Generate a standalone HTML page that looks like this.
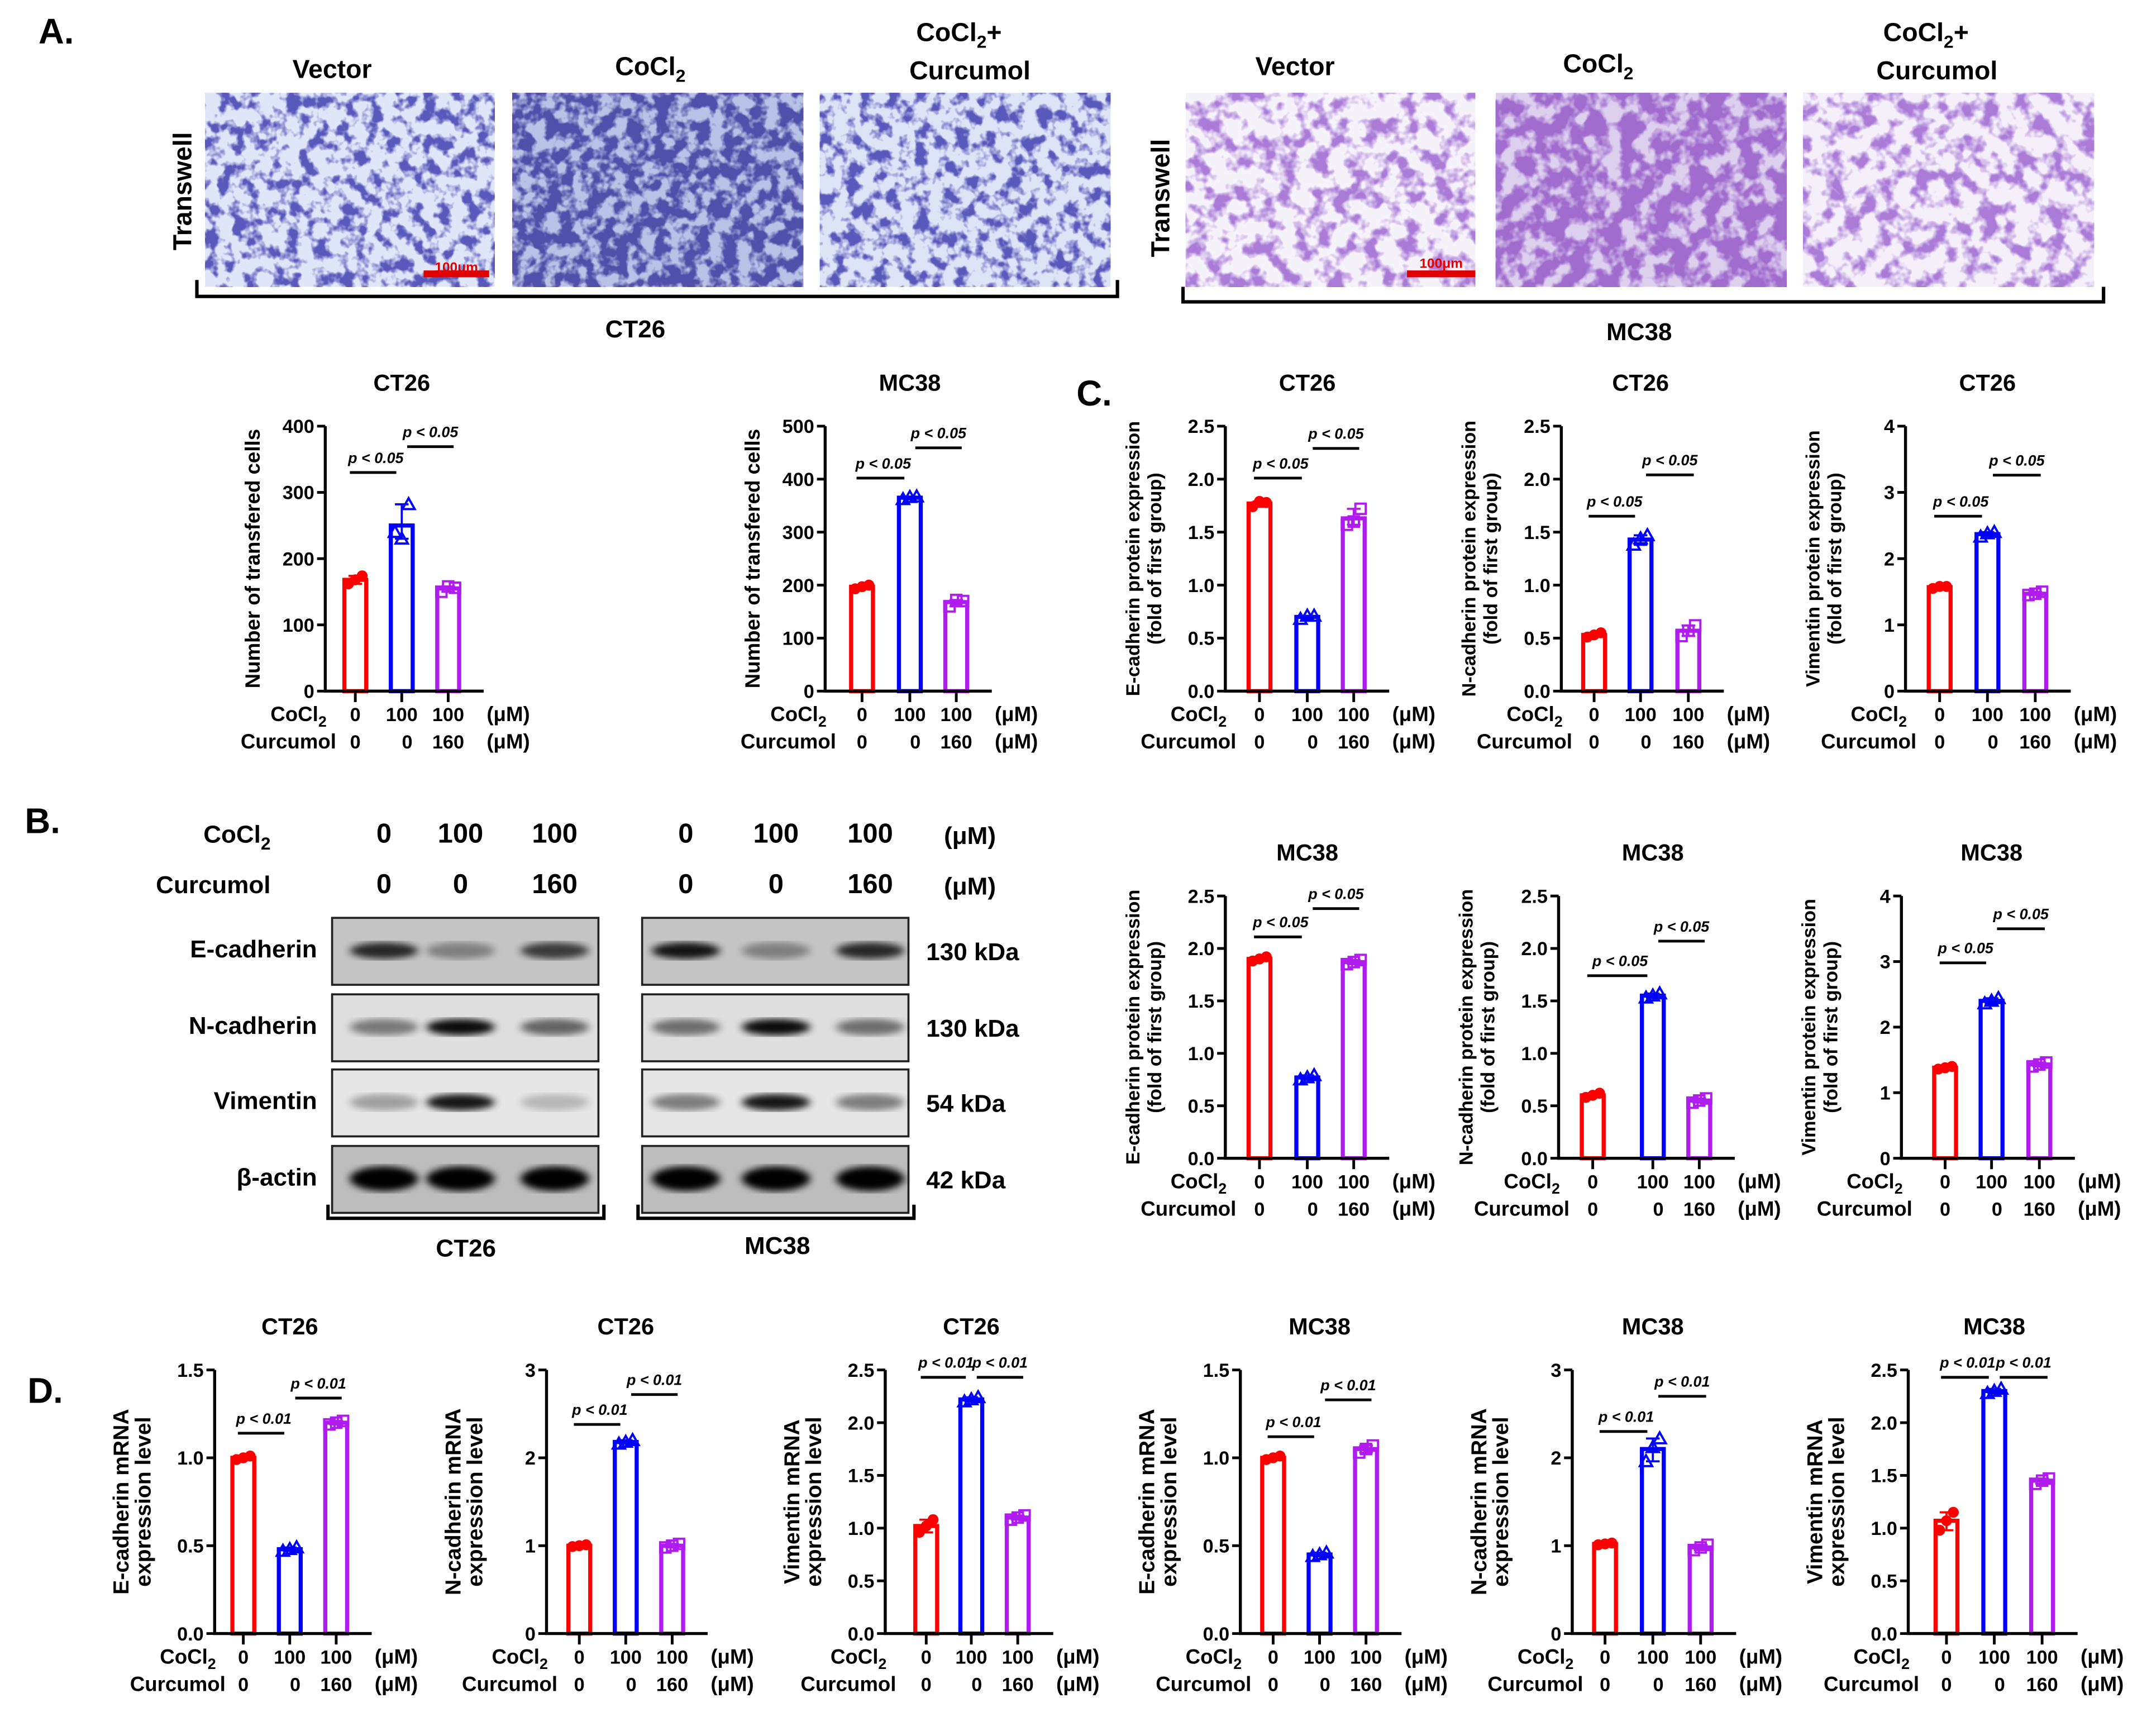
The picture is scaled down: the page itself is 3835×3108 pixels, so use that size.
<!DOCTYPE html>
<html><head><meta charset="utf-8">
<style>
html,body{margin:0;padding:0;background:#fff;}
svg{display:block;font-family:"Liberation Sans",Arial,sans-serif;font-weight:bold;}
</style></head>
<body>
<svg id="fig" width="3835" height="3108" viewBox="0 0 1568 1271" xmlns="http://www.w3.org/2000/svg">
<defs>
<filter id="noiseBlue" x="0" y="0" width="1" height="1">
<feTurbulence type="fractalNoise" baseFrequency="0.1" numOctaves="3" seed="3"/>
<feColorMatrix type="matrix" values="0 0 0 0 0.1  0 0 0 0 0.1  0 0 0 0 0.5  5 0 0 0 -2.3"/>
</filter>
<filter id="noiseBlueD" x="0" y="0" width="1" height="1">
<feTurbulence type="fractalNoise" baseFrequency="0.1" numOctaves="3" seed="5"/>
<feColorMatrix type="matrix" values="0 0 0 0 0.08  0 0 0 0 0.08  0 0 0 0 0.4  5 0 0 0 -1.9"/>
</filter>
<filter id="noisePurple" x="0" y="0" width="1" height="1">
<feTurbulence type="fractalNoise" baseFrequency="0.08" numOctaves="3" seed="7"/>
<feColorMatrix type="matrix" values="0 0 0 0 0.4  0 0 0 0 0.2  0 0 0 0 0.68  5 0 0 0 -2.3"/>
</filter>
<filter id="noisePurpleD" x="0" y="0" width="1" height="1">
<feTurbulence type="fractalNoise" baseFrequency="0.08" numOctaves="3" seed="9"/>
<feColorMatrix type="matrix" values="0 0 0 0 0.35  0 0 0 0 0.15  0 0 0 0 0.62  5 0 0 0 -1.8"/>
</filter>
<filter id="blur2"><feGaussianBlur stdDeviation="3 2.5"/></filter>
</defs>
<g id="root"></g>
</svg>
<script>
// ---------- chart data ----------
const groupsCo = ["0","100","100"];
const groupsCur = ["0","0","160"];
const titles = ["CT26","MC38","CT26","CT26","CT26","MC38","MC38","MC38","CT26","CT26","CT26","MC38","MC38","MC38"];
const means = [
 [168,250,155],[197,365,168],
 [1.77,0.70,1.63],[0.53,1.43,0.57],[1.57,2.37,1.47],
 [1.90,0.77,1.87],[0.60,1.55,0.55],[1.38,2.40,1.43],
 [1.0,0.48,1.2],[1.0,2.18,1.0],[1.02,2.22,1.1],
 [1.0,0.45,1.05],[1.02,2.10,0.98],[1.07,2.30,1.45]
];
const reps = [
 [[162,168,174],[240,230,282],[150,158,156]],
 [[193,197,200],[362,366,367],[160,172,170]],
 [[1.74,1.79,1.78],[0.68,0.71,0.71],[1.57,1.60,1.72]],
 [[0.51,0.53,0.55],[1.38,1.44,1.47],[0.52,0.57,0.62]],
 [[1.55,1.58,1.58],[2.33,2.38,2.40],[1.45,1.47,1.50]],
 [[1.88,1.90,1.92],[0.75,0.77,0.79],[1.85,1.87,1.89]],
 [[0.58,0.60,0.62],[1.53,1.55,1.57],[0.53,0.55,0.57]],
 [[1.36,1.38,1.40],[2.36,2.40,2.44],[1.40,1.43,1.46]],
 [[0.99,1.00,1.01],[0.47,0.48,0.49],[1.19,1.20,1.21]],
 [[0.99,1.00,1.01],[2.16,2.18,2.20],[0.98,1.00,1.02]],
 [[0.96,1.02,1.08],[2.20,2.22,2.24],[1.08,1.10,1.12]],
 [[0.99,1.00,1.01],[0.44,0.45,0.46],[1.03,1.05,1.07]],
 [[1.01,1.02,1.03],[1.96,2.12,2.22],[0.95,0.98,1.01]],
 [[0.98,1.07,1.15],[2.28,2.30,2.32],[1.42,1.45,1.47]]
];
const yMax = [400,500,2.5,2.5,4,2.5,2.5,4,1.5,3,2.5,1.5,3,2.5];
const yStep = [100,100,0.5,0.5,1,0.5,0.5,1,0.5,1,0.5,0.5,1,0.5];
const yDec = [0,0,1,1,0,1,1,0,1,0,1,1,0,1];
const sigA = [330,402,2.01,1.65,2.64,2.11,1.74,2.98,1.14,2.38,2.43,1.12,2.30,2.43];
const sigB = [369,459,2.29,2.04,3.26,2.38,2.07,3.50,1.34,2.72,2.43,1.33,2.70,2.43];
const sigText = ["p < 0.05","p < 0.05","p < 0.05","p < 0.05","p < 0.05","p < 0.05","p < 0.05","p < 0.05","p < 0.01","p < 0.01","p < 0.01","p < 0.01","p < 0.01","p < 0.01"];
const yTitles = [
 ["Number of transfered cells"],["Number of transfered cells"],
 ["E-cadherin protein expression","(fold of first group)"],["N-cadherin protein expression","(fold of first group)"],["Vimentin protein expression","(fold of first group)"],
 ["E-cadherin protein expression","(fold of first group)"],["N-cadherin protein expression","(fold of first group)"],["Vimentin protein expression","(fold of first group)"],
 ["E-cadherin mRNA","expression level"],["N-cadherin mRNA","expression level"],["Vimentin mRNA","expression level"],
 ["E-cadherin mRNA","expression level"],["N-cadherin mRNA","expression level"],["Vimentin mRNA","expression level"]
];
// layout (not data)
const layout = [
 {ax:238,top:312,bot:506,bx:[260,294,328]},
 {ax:604,top:312,bot:506,bx:[631,666,700]},
 {ax:897,top:312,bot:506,bx:[922,957,991]},
 {ax:1143,top:312,bot:506,bx:[1167,1201,1236]},
 {ax:1395,top:312,bot:506,bx:[1420,1455,1490]},
 {ax:897,top:656,bot:848,bx:[922,957,991]},
 {ax:1141,top:656,bot:848,bx:[1166,1210,1244]},
 {ax:1392,top:656,bot:848,bx:[1424,1458,1493]},
 {ax:157,top:1003,bot:1196,bx:[178,212,246]},
 {ax:400,top:1003,bot:1196,bx:[424,458,492]},
 {ax:648,top:1003,bot:1196,bx:[678,711,745]},
 {ax:908,top:1003,bot:1196,bx:[932,966,1000]},
 {ax:1151,top:1003,bot:1196,bx:[1175,1210,1245]},
 {ax:1397,top:1003,bot:1196,bx:[1425,1460,1495]}
];
const colors = ["#ff0000","#0000ff","#b01cf0"];
const NS = "http://www.w3.org/2000/svg";
const root = document.getElementById('root');
function mk(tag, attrs, parent, text){
  const e = document.createElementNS(NS, tag);
  for (const k in attrs) e.setAttribute(k, attrs[k]);
  if (text !== undefined) e.textContent = text;
  (parent||root).appendChild(e);
  return e;
}
function txt(x,y,s,size,parent,anchor,extra){
  const a = Object.assign({x:x,y:y,'font-size':size,'text-anchor':anchor||'middle'}, extra||{});
  return mk('text',a,parent,s);
}

// ---------- panel letters ----------
[["A.",28,32],["B.",18,610],["C.",788,297],["D.",20,1027]].forEach(p=>{
  const t = txt(p[1],p[2],p[0],26,root,'start');
  
  
});

// ---------- panel A images ----------
const imgs = [
 {x:150,w:212,base:"#dfe6f7",f:"noiseBlue"},
 {x:375,w:213,base:"#b9c2e6",f:"noiseBlueD"},
 {x:600,w:213,base:"#dde4f6",f:"noiseBlue"},
 {x:868,w:212,base:"#f6f2fa",f:"noisePurple"},
 {x:1095,w:213,base:"#ddd0ee",f:"noisePurpleD"},
 {x:1320,w:213,base:"#f4eff9",f:"noisePurple"}
];
imgs.forEach((im,i)=>{
  const g = mk('g',{});
  
  
  mk('rect',{x:im.x,y:68,width:im.w,height:142,fill:im.base},g);
  mk('rect',{x:im.x,y:68,width:im.w,height:142,filter:'url(#'+im.f+')'},g);
});
mk('rect',{x:310,y:198,width:48,height:5,fill:"#e00000"});
txt(334,199,"100μm",10,root,'middle',{fill:'#e00000'});
mk('rect',{x:1030,y:198,width:50,height:5,fill:"#e00000"});
txt(1055,196,"100μm",10,root,'middle',{fill:'#e00000'});
[["Vector",243,57],["CoCl",476,55],["Vector",948,55],["CoCl",1170,53]].forEach(h=>{
  const t = txt(h[1],h[2],h[0],19);
  if(h[0]==="CoCl"){ mk('tspan',{dy:5,'font-size':13},t,"2"); }
  
  
});
[[702,30],[1410,30]].forEach(p=>{
  const t = txt(p[0],p[1],"CoCl",19);
  mk('tspan',{dy:5,'font-size':13},t,"2");
  mk('tspan',{dy:-5},t,"+");
  txt(p[0]+8,p[1]+28,"Curcumol",19);
});
[[140,140],[856,145]].forEach(p=>{
  const t = txt(p[0],p[1],"Transwell",19,root,'middle',{transform:'rotate(-90 '+p[0]+' '+p[1]+')'});
  
  
});
mk('path',{d:'M144 205 V217 H818 V205',fill:'none',stroke:'#000','stroke-width':2.5});
mk('path',{d:'M866 210 V221 H1540 V210',fill:'none',stroke:'#000','stroke-width':2.5});
txt(465,247,"CT26",18);
txt(1200,249,"MC38",18);

// ---------- panel B western blot ----------
const wb = mk('g',{});


const t1 = txt(198,617,"CoCl",18,wb,'end'); mk('tspan',{dy:5,'font-size':13},t1,"2");
txt(198,654,"Curcumol",18,wb,'end');
const laneX = [[281,337,406],[502,568,637]];
["0","100","100"].forEach((v,i)=>{txt(laneX[0][i],617,v,20,wb);txt(laneX[1][i],617,v,20,wb);});
["0","0","160"].forEach((v,i)=>{txt(laneX[0][i],654,v,20,wb);txt(laneX[1][i],654,v,20,wb);});
txt(710,618,"(μM)",18,wb); txt(710,655,"(μM)",18,wb);
const rows = [
 {n:"E-cadherin",y:672,bg:"#c4c4c4",k:"130 kDa",i:[[0.8,0.35,0.7],[0.9,0.35,0.8]]},
 {n:"N-cadherin",y:728,bg:"#dedede",k:"130 kDa",i:[[0.45,0.95,0.55],[0.5,0.95,0.5]]},
 {n:"Vimentin",y:783,bg:"#e6e6e6",k:"54 kDa",i:[[0.3,0.9,0.2],[0.45,0.9,0.45]]},
 {n:"β-actin",y:839,bg:"#bdbdbd",k:"42 kDa",i:[[1,1,1],[1,1,1]]}
];
rows.forEach(r=>{
  txt(232,r.y+29,r.n,18,wb,'end');
  txt(678,r.y+31,r.k,18,wb,'start');
  [243,470].forEach((bx,b)=>{
    mk('rect',{x:bx,y:r.y,width:195,height:49,fill:r.bg,stroke:'#222','stroke-width':1.5},wb);
    laneX[b].forEach((lx,li)=>{
      const a = r.i[b][li];
      mk('ellipse',{cx:lx,cy:r.y+24,rx:25,ry:r.n==="β-actin"?9:6,fill:'#000',opacity:a,filter:'url(#blur2)'},wb);
    });
  });
});
mk('path',{d:'M240 882 V892 H442 V882',fill:'none',stroke:'#000','stroke-width':2.5},wb);
mk('path',{d:'M467 882 V892 H669 V882',fill:'none',stroke:'#000','stroke-width':2.5},wb);
txt(341,920,"CT26",18,wb); txt(569,918,"MC38",18,wb);

// ---------- bar charts ----------
for (let c=0;c<means.length;c++){
  const L = layout[c];
  const g = mk('g',{});
  
  
  const ys = v => L.bot - (v / yMax[c]) * (L.bot - L.top);
  const xEnd = L.bx[2] + 26;
  txt(L.bx[1], L.top - 26, titles[c], 17, g);
  const lines = yTitles[c];
  const mid = (L.top + L.bot) / 2;
  const tx0 = L.ax - 48 - (lines.length - 1) * 15;
  const fs = c < 2 ? 15 : (c < 8 ? 14 : 16);
  lines.forEach((s, k) => {
    const x = tx0 + k * 16;
    const t = txt(x, mid, s, fs, g, 'middle', {transform:'rotate(-90 '+x+' '+mid+')'});
    
    
  });
  for (let i=0;i<3;i++){
    const v = means[c][i];
    const bar = mk('rect',{x:L.bx[i]-8,y:ys(v),width:16,height:L.bot-ys(v),fill:'#fff',stroke:colors[i],'stroke-width':3},g);
    
    
    const r = reps[c][i];
    const lo = Math.min(...r), hi = Math.max(...r);
    mk('path',{d:'M'+L.bx[i]+' '+ys(lo)+' V'+ys(hi)+' M'+(L.bx[i]-5)+' '+ys(lo)+' h10 M'+(L.bx[i]-5)+' '+ys(hi)+' h10',stroke:colors[i],'stroke-width':1.5,fill:'none'},g);
    r.forEach((pv,k)=>{
      const px = L.bx[i] + (k-1)*5, py = ys(pv);
      let p;
      if (i===0) p = mk('circle',{cx:px,cy:py,r:4,fill:colors[0]},g);
      else if (i===1) p = mk('path',{d:'M'+px+' '+(py-4.5)+' L'+(px+4.5)+' '+(py+3.5)+' L'+(px-4.5)+' '+(py+3.5)+' Z',fill:'none',stroke:colors[1],'stroke-width':1.6},g);
      else p = mk('rect',{x:px-3.8,y:py-3.8,width:7.6,height:7.6,fill:'none',stroke:colors[2],'stroke-width':1.6},g);
      
      
    });
  }
  mk('path',{d:'M'+L.ax+' '+L.top+' V'+L.bot+' H'+xEnd,stroke:'#000','stroke-width':2.2,fill:'none'},g);
  for (let v=0; v<=yMax[c]+1e-9; v+=yStep[c]){
    const y = ys(v);
    mk('line',{x1:L.ax-6,x2:L.ax,y1:y,y2:y,stroke:'#000','stroke-width':2},g);
    txt(L.ax-8, y+5, v.toFixed(yDec[c]), 14, g, 'end');
  }
  L.bx.forEach(x=>mk('line',{x1:x,x2:x,y1:L.bot,y2:L.bot+8,stroke:'#000','stroke-width':2},g));
  const r1 = L.bot + 22, r2 = L.bot + 42;
  const co = txt(L.ax+1, r1, "CoCl", 15, g, 'end'); mk('tspan',{dy:4,'font-size':11},co,"2");
  txt(L.ax+8, r2, "Curcumol", 15, g, 'end');
  for (let i=0;i<3;i++){ txt(L.bx[i], r1, groupsCo[i], 14, g); txt(L.bx[i]+(i===1?4:0), r2, groupsCur[i], 14, g); }
  txt(L.bx[2]+44, r1, "(μM)", 15, g); txt(L.bx[2]+44, r2, "(μM)", 15, g);
  const ya = ys(sigA[c]), yb = ys(sigB[c]);
  const s1 = mk('line',{x1:L.bx[0]-4,x2:L.bx[1]-4,y1:ya,y2:ya,stroke:'#000','stroke-width':2},g);
  
  
  const s2 = mk('line',{x1:L.bx[1]+4,x2:L.bx[2]+4,y1:yb,y2:yb,stroke:'#000','stroke-width':2},g);
  
  
  txt((L.bx[0]+L.bx[1])/2-2, ya-7, sigText[c], 11, g, 'middle', {'font-style':'italic'});
  txt((L.bx[1]+L.bx[2])/2+4, yb-7, sigText[c], 11, g, 'middle', {'font-style':'italic'});
}
</script>
</body></html>
